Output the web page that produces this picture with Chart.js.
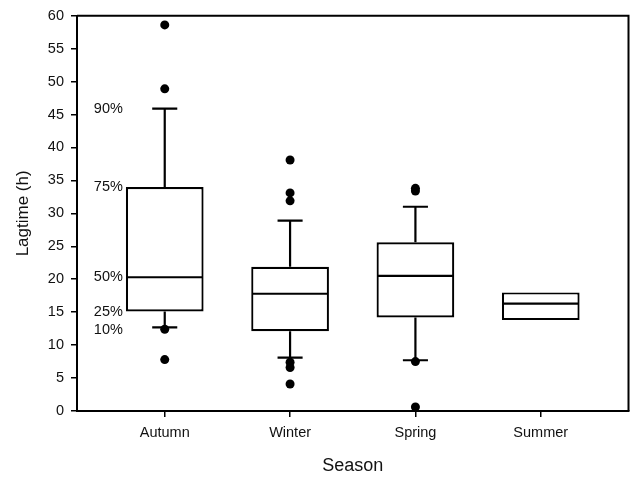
<!DOCTYPE html>
<html>
<head>
<meta charset="utf-8">
<script src="https://cdn.jsdelivr.net/npm/chart.js@4"></script>
<style>
  html, body { margin: 0; padding: 0; background: #fff; }
  #wrap { width: 633px; height: 477px; }
</style>
</head>
<body>
<div id="wrap"><canvas id="lagChart" width="633" height="477"></canvas></div>
<script>
// Lag time per season: box = 25th-75th percentile, whiskers = 10th/90th, dots = outliers
var seasons = ['Autumn', 'Winter', 'Spring', 'Summer'];
var p10 = [12.7, 8.1, 7.7, null];
var q1 = [15.1, 12.1, 14.2, 13.8];
var median = [20.3, 17.8, 20.5, 16.3];
var q3 = [34.0, 21.9, 25.6, 18.0];
var p90 = [45.9, 28.9, 31.0, null];
var outliers = [
    [58.6, 48.9, 12.4, 7.8],
    [38.1, 33.1, 31.9, 7.4, 6.6, 4.1],
    [33.8, 33.4, 7.5, 0.6],
    []
];
// percentile captions next to the first box
var pctLabels = ['90%', '75%', '50%', '25%', '10%'];
var yTicks = [0, 5, 10, 15, 20, 25, 30, 35, 40, 45, 50, 55, 60];

Chart.defaults.font.family = '"Liberation Sans", Arial, sans-serif';
Chart.defaults.color = '#111';

var boxData = seasons.map(function (s, i) {
    return { x: i, y: [q1[i], q3[i]] };
});
var outlierData = [];
outliers.forEach(function (list, i) {
    list.forEach(function (v) { outlierData.push({ x: i, y: v }); });
});

// medians, whiskers and caps, drawn right after the boxes
var whiskerPlugin = {
    id: 'whiskers',
    afterDatasetDraw: function (chart, args) {
        if (args.index !== 0) return;
        var ctx = chart.ctx;
        var y = chart.scales.y;
        var x = chart.scales.x;
        var bars = args.meta.data;
        ctx.save();
        ctx.strokeStyle = '#000';
        ctx.lineWidth = 2.2;
        bars.forEach(function (bar, i) {
            var cx = bar.x;
            var half = bar.width / 2;
            var ym = y.getPixelForValue(median[i]);
            ctx.beginPath();
            ctx.moveTo(cx - half + 1, ym);
            ctx.lineTo(cx + half - 1, ym);
            ctx.stroke();
            var capHalf = (x.getPixelForValue(0.1) - x.getPixelForValue(0));
            [[q3[i], p90[i]], [q1[i], p10[i]]].forEach(function (pair) {
                if (pair[1] === null) return;
                var y0 = y.getPixelForValue(pair[0]);
                var y1 = y.getPixelForValue(pair[1]);
                ctx.beginPath();
                ctx.moveTo(cx, y0);
                ctx.lineTo(cx, y1);
                ctx.moveTo(cx - capHalf, y1);
                ctx.lineTo(cx + capHalf, y1);
                ctx.stroke();
            });
        });
        ctx.restore();
    },
    afterDraw: function (chart) {
        var ctx = chart.ctx;
        var area = chart.chartArea;
        var y = chart.scales.y;
        var bar = chart.getDatasetMeta(0).data[0];
        ctx.save();
        // top and right edges of the frame
        ctx.strokeStyle = '#000';
        ctx.lineWidth = 2;
        ctx.beginPath();
        ctx.moveTo(area.left, area.top);
        ctx.lineTo(area.right, area.top);
        ctx.lineTo(area.right, area.bottom);
        ctx.stroke();
        // percentile captions
        var vals = [p90[0], q3[0], median[0], q1[0], p10[0]];
        ctx.fillStyle = '#111';
        ctx.font = '14.5px "Liberation Sans", Arial, sans-serif';
        ctx.textAlign = 'right';
        ctx.textBaseline = 'middle';
        pctLabels.forEach(function (t, k) {
            var py = y.getPixelForValue(vals[k]);
            if (k === 4) py += 3;
            ctx.fillText(t, bar.x - bar.width / 2 - 3, py);
        });
        ctx.restore();
    }
};

var ctx = document.getElementById('lagChart').getContext('2d');
var lagChart = new Chart(ctx, {
    type: 'bar',
    data: {
        datasets: [{
            type: 'bar',
            data: boxData,
            backgroundColor: '#fff',
            borderColor: '#000',
            borderWidth: 2.2,
            borderSkipped: false,
            barPercentage: 0.62,
            categoryPercentage: 1,
            order: 2
        }, {
            type: 'scatter',
            data: outlierData,
            pointRadius: 4.5,
            pointBackgroundColor: '#000',
            pointBorderWidth: 0,
            order: 1
        }]
    },
    options: {
        responsive: false,
        animation: false,
        layout: { padding: { top: 14, right: 3, left: 0, bottom: 0 } },
        plugins: {
            legend: { display: false },
            tooltip: { enabled: false }
        },
        scales: {
            x: {
                type: 'linear',
                min: -0.7,
                max: 3.7,
                offset: false,
                afterBuildTicks: function (scale) {
                    scale.ticks = seasons.map(function (s, i) { return { value: i }; });
                },
                afterFit: function (scale) { scale.height = 66; },
                ticks: {
                    padding: 7,
                    font: { size: 14.5 },
                    callback: function (v) { return seasons[v]; }
                },
                grid: { offset: false, drawOnChartArea: false, drawTicks: true, tickLength: 6, color: '#000', lineWidth: 1.5 },
                border: { display: true, color: '#000', width: 2 },
                title: { display: true, text: 'Season', font: { size: 18 }, padding: { top: 0, bottom: 0 } }
            },
            y: {
                min: 0,
                max: 60,
                afterBuildTicks: function (scale) {
                    scale.ticks = yTicks.map(function (v) { return { value: v }; });
                },
                afterFit: function (scale) { scale.width = 77; },
                ticks: { padding: 7, font: { size: 14.5 } },
                grid: { drawOnChartArea: false, drawTicks: true, tickLength: 6, color: '#000', lineWidth: 1.5 },
                border: { display: true, color: '#000', width: 2 },
                title: { display: true, text: 'Lagtime (h)', font: { size: 17 }, padding: { top: 13, bottom: 0 } }
            }
        }
    },
    plugins: [whiskerPlugin]
});
</script>
</body>
</html>
